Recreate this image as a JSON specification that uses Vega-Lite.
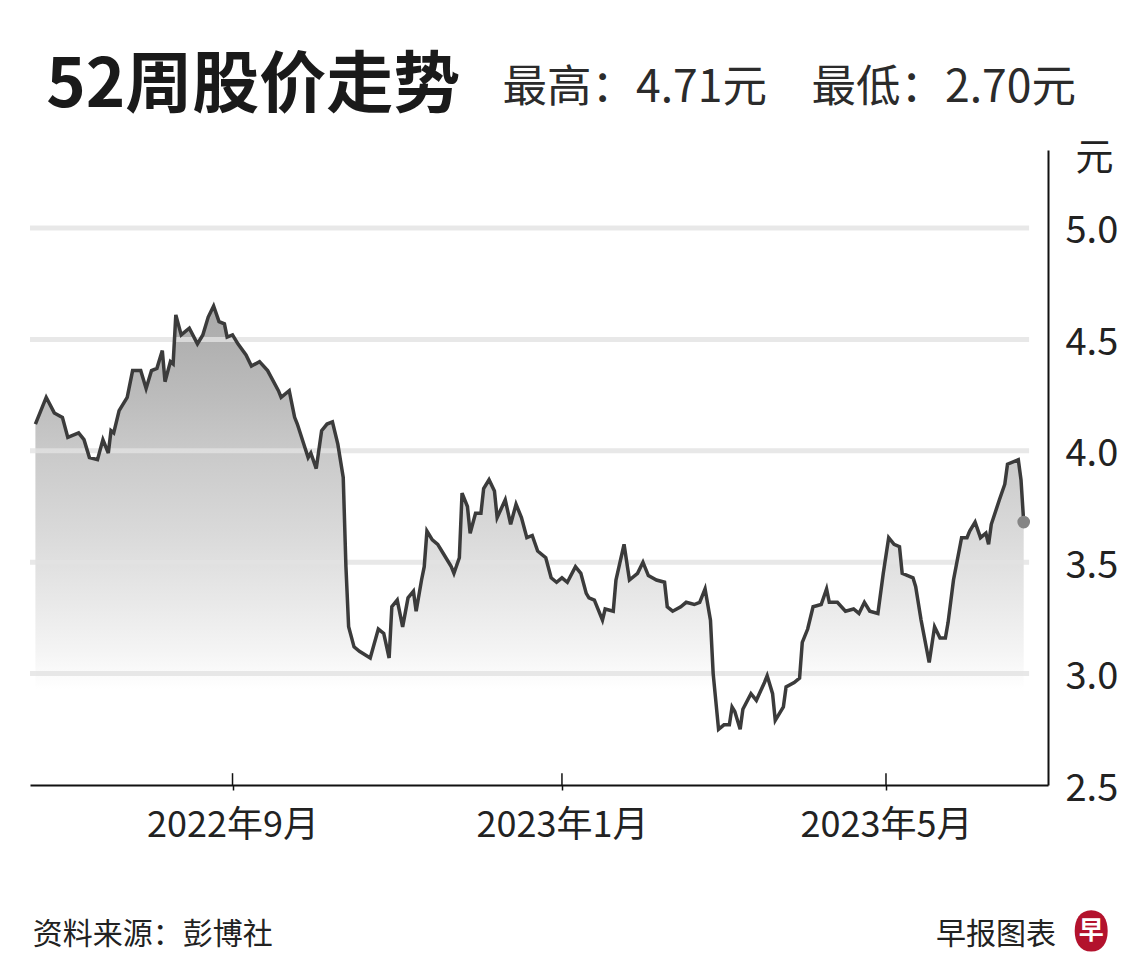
{
  "$schema": "https://vega.github.io/schema/vega-lite/v6.json",
  "width": 1018,
  "height": 635,
  "autosize": {"type": "none"},
  "padding": {"left": 30, "top": 150, "right": 92, "bottom": 191},
  "background": "white",
  "config": {
    "view": {"stroke": null},
    "font": "Noto Sans CJK SC",
    "axis": {"labelFont": "Noto Sans CJK SC", "titleFont": "Noto Sans CJK SC"}
  },
  "datasets": {
    "price": [
      {"d": "2022-06-20", "v": 4.12}, {"d": "2022-06-24", "v": 4.24}, {"d": "2022-06-27", "v": 4.17},
      {"d": "2022-06-30", "v": 4.15}, {"d": "2022-07-02", "v": 4.06}, {"d": "2022-07-06", "v": 4.08},
      {"d": "2022-07-08", "v": 4.05}, {"d": "2022-07-10", "v": 3.97}, {"d": "2022-07-13", "v": 3.96},
      {"d": "2022-07-15", "v": 4.05}, {"d": "2022-07-17", "v": 3.99}, {"d": "2022-07-18", "v": 4.09},
      {"d": "2022-07-19", "v": 4.08}, {"d": "2022-07-21", "v": 4.18}, {"d": "2022-07-24", "v": 4.24},
      {"d": "2022-07-26", "v": 4.36}, {"d": "2022-07-29", "v": 4.36}, {"d": "2022-07-31", "v": 4.28},
      {"d": "2022-08-02", "v": 4.36}, {"d": "2022-08-04", "v": 4.37}, {"d": "2022-08-06", "v": 4.45},
      {"d": "2022-08-07", "v": 4.31}, {"d": "2022-08-09", "v": 4.40}, {"d": "2022-08-10", "v": 4.39},
      {"d": "2022-08-11", "v": 4.61}, {"d": "2022-08-13", "v": 4.52}, {"d": "2022-08-16", "v": 4.55},
      {"d": "2022-08-19", "v": 4.48}, {"d": "2022-08-21", "v": 4.52}, {"d": "2022-08-23", "v": 4.60},
      {"d": "2022-08-25", "v": 4.65}, {"d": "2022-08-27", "v": 4.58}, {"d": "2022-08-29", "v": 4.57},
      {"d": "2022-08-30", "v": 4.51}, {"d": "2022-09-01", "v": 4.52}, {"d": "2022-09-03", "v": 4.48},
      {"d": "2022-09-06", "v": 4.43}, {"d": "2022-09-08", "v": 4.38}, {"d": "2022-09-11", "v": 4.40},
      {"d": "2022-09-14", "v": 4.36}, {"d": "2022-09-18", "v": 4.27}, {"d": "2022-09-19", "v": 4.24},
      {"d": "2022-09-22", "v": 4.27}, {"d": "2022-09-24", "v": 4.15}, {"d": "2022-09-25", "v": 4.12},
      {"d": "2022-09-29", "v": 3.97}, {"d": "2022-09-30", "v": 3.99}, {"d": "2022-10-02", "v": 3.92},
      {"d": "2022-10-04", "v": 4.09}, {"d": "2022-10-06", "v": 4.12}, {"d": "2022-10-08", "v": 4.13},
      {"d": "2022-10-10", "v": 4.03}, {"d": "2022-10-12", "v": 3.88}, {"d": "2022-10-13", "v": 3.48},
      {"d": "2022-10-14", "v": 3.21}, {"d": "2022-10-16", "v": 3.12}, {"d": "2022-10-18", "v": 3.10},
      {"d": "2022-10-22", "v": 3.07}, {"d": "2022-10-25", "v": 3.20}, {"d": "2022-10-27", "v": 3.18},
      {"d": "2022-10-29", "v": 3.07}, {"d": "2022-10-30", "v": 3.30}, {"d": "2022-11-01", "v": 3.33},
      {"d": "2022-11-03", "v": 3.21}, {"d": "2022-11-05", "v": 3.34}, {"d": "2022-11-07", "v": 3.37},
      {"d": "2022-11-08", "v": 3.28}, {"d": "2022-11-10", "v": 3.42}, {"d": "2022-11-11", "v": 3.48},
      {"d": "2022-11-12", "v": 3.64}, {"d": "2022-11-14", "v": 3.60}, {"d": "2022-11-16", "v": 3.58},
      {"d": "2022-11-18", "v": 3.54}, {"d": "2022-11-21", "v": 3.48}, {"d": "2022-11-22", "v": 3.45},
      {"d": "2022-11-24", "v": 3.52}, {"d": "2022-11-25", "v": 3.81}, {"d": "2022-11-27", "v": 3.75},
      {"d": "2022-11-28", "v": 3.63}, {"d": "2022-11-30", "v": 3.72}, {"d": "2022-12-02", "v": 3.72},
      {"d": "2022-12-03", "v": 3.83}, {"d": "2022-12-05", "v": 3.87}, {"d": "2022-12-07", "v": 3.82},
      {"d": "2022-12-08", "v": 3.70}, {"d": "2022-12-11", "v": 3.78}, {"d": "2022-12-13", "v": 3.67},
      {"d": "2022-12-15", "v": 3.76}, {"d": "2022-12-17", "v": 3.70}, {"d": "2022-12-19", "v": 3.61},
      {"d": "2022-12-21", "v": 3.62}, {"d": "2022-12-23", "v": 3.55}, {"d": "2022-12-26", "v": 3.52},
      {"d": "2022-12-28", "v": 3.43}, {"d": "2022-12-30", "v": 3.41}, {"d": "2023-01-01", "v": 3.43},
      {"d": "2023-01-03", "v": 3.41}, {"d": "2023-01-06", "v": 3.48}, {"d": "2023-01-08", "v": 3.45},
      {"d": "2023-01-10", "v": 3.36}, {"d": "2023-01-11", "v": 3.34}, {"d": "2023-01-13", "v": 3.33},
      {"d": "2023-01-16", "v": 3.24}, {"d": "2023-01-17", "v": 3.29}, {"d": "2023-01-20", "v": 3.28},
      {"d": "2023-01-21", "v": 3.42}, {"d": "2023-01-24", "v": 3.58}, {"d": "2023-01-26", "v": 3.42},
      {"d": "2023-01-29", "v": 3.45}, {"d": "2023-01-31", "v": 3.50}, {"d": "2023-02-02", "v": 3.44},
      {"d": "2023-02-05", "v": 3.42}, {"d": "2023-02-08", "v": 3.41}, {"d": "2023-02-09", "v": 3.30},
      {"d": "2023-02-11", "v": 3.28}, {"d": "2023-02-14", "v": 3.30}, {"d": "2023-02-16", "v": 3.32},
      {"d": "2023-02-19", "v": 3.31}, {"d": "2023-02-21", "v": 3.32}, {"d": "2023-02-23", "v": 3.38},
      {"d": "2023-02-25", "v": 3.24}, {"d": "2023-02-26", "v": 3.00}, {"d": "2023-02-28", "v": 2.75},
      {"d": "2023-03-02", "v": 2.77}, {"d": "2023-03-04", "v": 2.77}, {"d": "2023-03-05", "v": 2.85},
      {"d": "2023-03-06", "v": 2.83}, {"d": "2023-03-08", "v": 2.75}, {"d": "2023-03-09", "v": 2.84},
      {"d": "2023-03-12", "v": 2.91}, {"d": "2023-03-14", "v": 2.88}, {"d": "2023-03-17", "v": 2.96},
      {"d": "2023-03-18", "v": 2.99}, {"d": "2023-03-20", "v": 2.91}, {"d": "2023-03-21", "v": 2.79},
      {"d": "2023-03-24", "v": 2.85}, {"d": "2023-03-25", "v": 2.94}, {"d": "2023-03-28", "v": 2.96},
      {"d": "2023-03-30", "v": 2.98}, {"d": "2023-03-31", "v": 3.14}, {"d": "2023-04-02", "v": 3.20},
      {"d": "2023-04-04", "v": 3.30}, {"d": "2023-04-07", "v": 3.31}, {"d": "2023-04-09", "v": 3.38},
      {"d": "2023-04-10", "v": 3.32}, {"d": "2023-04-13", "v": 3.32}, {"d": "2023-04-16", "v": 3.28},
      {"d": "2023-04-19", "v": 3.29}, {"d": "2023-04-21", "v": 3.27}, {"d": "2023-04-23", "v": 3.32},
      {"d": "2023-04-25", "v": 3.28}, {"d": "2023-04-28", "v": 3.27}, {"d": "2023-04-30", "v": 3.45},
      {"d": "2023-05-02", "v": 3.61}, {"d": "2023-05-04", "v": 3.58}, {"d": "2023-05-06", "v": 3.57},
      {"d": "2023-05-07", "v": 3.45}, {"d": "2023-05-11", "v": 3.43}, {"d": "2023-05-12", "v": 3.39},
      {"d": "2023-05-14", "v": 3.24}, {"d": "2023-05-17", "v": 3.05}, {"d": "2023-05-19", "v": 3.21},
      {"d": "2023-05-21", "v": 3.16}, {"d": "2023-05-23", "v": 3.16}, {"d": "2023-05-24", "v": 3.23},
      {"d": "2023-05-26", "v": 3.42}, {"d": "2023-05-29", "v": 3.61}, {"d": "2023-05-31", "v": 3.61},
      {"d": "2023-06-01", "v": 3.64}, {"d": "2023-06-03", "v": 3.68}, {"d": "2023-06-05", "v": 3.61},
      {"d": "2023-06-07", "v": 3.63}, {"d": "2023-06-08", "v": 3.58}, {"d": "2023-06-09", "v": 3.67},
      {"d": "2023-06-12", "v": 3.78}, {"d": "2023-06-14", "v": 3.85}, {"d": "2023-06-15", "v": 3.94},
      {"d": "2023-06-19", "v": 3.96}, {"d": "2023-06-20", "v": 3.87}, {"d": "2023-06-21", "v": 3.68}
    ],
    "grid": [{"v": 3.0}, {"v": 3.5}, {"v": 4.0}, {"v": 4.5}, {"v": 5.0}],
    "ticks": [{"d": "2022-09-01"}, {"d": "2023-01-01"}, {"d": "2023-05-01"}]
  },
  "layer": [
    {
      "data": {"name": "price"},
      "mark": {
        "type": "area",
        "color": {
          "gradient": "linear", "x1": 0, "y1": 0, "x2": 0, "y2": 1,
          "stops": [
            {"offset": 0, "color": "#a9a9a9"},
            {"offset": 0.2, "color": "#bdbdbd"},
            {"offset": 0.3, "color": "#c9c9c9"},
            {"offset": 0.47, "color": "#d9d9d9"},
            {"offset": 0.61, "color": "#e8e8e8"},
            {"offset": 0.72, "color": "#f4f4f4"},
            {"offset": 0.8, "color": "#ffffff"},
            {"offset": 1, "color": "#ffffff"}
          ]
        }
      },
      "encoding": {
        "x": {
          "field": "d", "type": "temporal",
          "scale": {"type": "utc", "domain": [{"year": 2022, "month": 6, "date": 18, "utc": true}, {"year": 2023, "month": 6, "date": 30, "utc": true}]},
          "axis": {
            "title": null,
            "grid": false,
            "values": [{"year": 2022, "month": 9, "date": 1, "utc": true}, {"year": 2023, "month": 1, "date": 1, "utc": true}, {"year": 2023, "month": 5, "date": 1, "utc": true}],
            "labelExpr": "utcyear(datum.value) + '年' + (utcmonth(datum.value) + 1) + '月'",
            "domainColor": "#111111", "domainWidth": 2,
            "tickColor": "#111111", "tickWidth": 1.5, "tickSize": 5,
            "labelFontSize": 36, "labelColor": "#222222", "labelPadding": 18,
            "labelOverlap": false, "zindex": 1
          }
        },
        "y": {
          "field": "v", "type": "quantitative",
          "scale": {"domain": [2.5, 5.35], "zero": false, "nice": false},
          "axis": {
            "orient": "right",
            "title": "元",
            "titleAngle": 0, "titleX": 46, "titleY": 8,
            "titleAlign": "center", "titleBaseline": "middle",
            "titleFontSize": 38, "titleFontWeight": "normal", "titleColor": "#222222",
            "values": [2.5, 3, 3.5, 4, 4.5, 5],
            "format": ".1f",
            "grid": false, "ticks": false,
            "domainColor": "#111111", "domainWidth": 2,
            "labelFontSize": 38, "labelColor": "#222222", "labelPadding": 17,
            "labelBaseline": "middle", "labelOffset": 4,
            "labelFlush": false, "labelOverlap": false, "zindex": 1
          }
        },
        "y2": {"datum": 2.5}
      }
    },
    {
      "data": {"name": "grid"},
      "mark": {"type": "rule", "color": "#e2e2e2", "strokeWidth": 5, "opacity": 0.8},
      "encoding": {
        "y": {"field": "v", "type": "quantitative"},
        "x": {"datum": {"year": 2022, "month": 6, "date": 18, "utc": true}, "type": "temporal"},
        "x2": {"datum": {"year": 2023, "month": 6, "date": 23, "utc": true}}
      }
    },
    {
      "data": {"name": "price"},
      "mark": {"type": "line", "color": "#3b3b3b", "strokeWidth": 3.5},
      "encoding": {
        "x": {"field": "d", "type": "temporal"},
        "y": {"field": "v", "type": "quantitative"}
      }
    },
    {
      "data": {"name": "price"},
      "transform": [{"filter": {"field": "d", "equal": {"year": 2023, "month": 6, "date": 21, "utc": true}}}],
      "mark": {"type": "point", "filled": true, "color": "#858585", "size": 160, "opacity": 1},
      "encoding": {
        "x": {"field": "d", "type": "temporal"},
        "y": {"field": "v", "type": "quantitative"}
      }
    },
    {
      "data": {"name": "ticks"},
      "mark": {"type": "rule", "color": "#111111", "strokeWidth": 1.5},
      "encoding": {
        "x": {"field": "d", "type": "temporal"},
        "y": {"datum": 2.5, "type": "quantitative"},
        "y2": {"datum": 2.553}
      }
    },
    {
      "data": {"values": [{"t": "52周股价走势"}]},
      "mark": {"type": "text", "align": "left", "baseline": "middle", "fontSize": 67, "fontWeight": "bold", "color": "#1a1a1a", "font": "Noto Sans CJK SC"},
      "encoding": {
        "x": {"datum": {"year": 2022, "month": 6, "date": 24, "utc": true}, "type": "temporal"},
        "y": {"datum": 5.632, "type": "quantitative"},
        "text": {"field": "t"}
      }
    },
    {
      "data": {"values": [{"t": "最高：4.71元　最低：2.70元"}]},
      "mark": {"type": "text", "align": "left", "baseline": "middle", "fontSize": 44.5, "color": "#2b2b2b", "font": "Noto Sans CJK SC"},
      "encoding": {
        "x": {"datum": {"year": 2022, "month": 12, "date": 10, "utc": true}, "type": "temporal"},
        "y": {"datum": 5.624, "type": "quantitative"},
        "text": {"field": "t"}
      }
    },
    {
      "data": {"values": [{"t": "资料来源：彭博社"}]},
      "mark": {"type": "text", "align": "left", "baseline": "middle", "fontSize": 30, "color": "#222222", "font": "Noto Sans CJK SC"},
      "encoding": {
        "x": {"datum": {"year": 2022, "month": 6, "date": 19, "utc": true}, "type": "temporal"},
        "y": {"datum": 1.827, "type": "quantitative"},
        "text": {"field": "t"}
      }
    },
    {
      "data": {"values": [{"t": "早报图表"}]},
      "mark": {"type": "text", "align": "right", "baseline": "middle", "fontSize": 30, "color": "#222222", "font": "Noto Sans CJK SC"},
      "encoding": {
        "x": {"datum": {"year": 2023, "month": 7, "date": 3, "utc": true}, "type": "temporal"},
        "y": {"datum": 1.827, "type": "quantitative"},
        "text": {"field": "t"}
      }
    },
    {
      "data": {"values": [{"t": "早"}]},
      "mark": {
        "type": "point", "filled": true, "opacity": 1, "color": "#b3122d", "size": 1700,
        "shape": "M0,-1 C0.55,-1 0.8,-0.55 0.8,0 C0.8,0.55 0.55,1 0,1 C-0.55,1 -0.8,0.55 -0.8,0 C-0.8,-0.55 -0.55,-1 0,-1 Z"
      },
      "encoding": {
        "x": {"datum": {"year": 2023, "month": 7, "date": 16, "utc": true}, "type": "temporal"},
        "y": {"datum": 1.845, "type": "quantitative"}
      }
    },
    {
      "data": {"values": [{"t": "早"}]},
      "mark": {"type": "text", "align": "center", "baseline": "middle", "fontSize": 25, "fontWeight": "bold", "color": "#ffffff", "font": "Noto Sans CJK SC"},
      "encoding": {
        "x": {"datum": {"year": 2023, "month": 7, "date": 16, "utc": true}, "type": "temporal"},
        "y": {"datum": 1.845, "type": "quantitative"},
        "text": {"field": "t"}
      }
    }
  ]
}
